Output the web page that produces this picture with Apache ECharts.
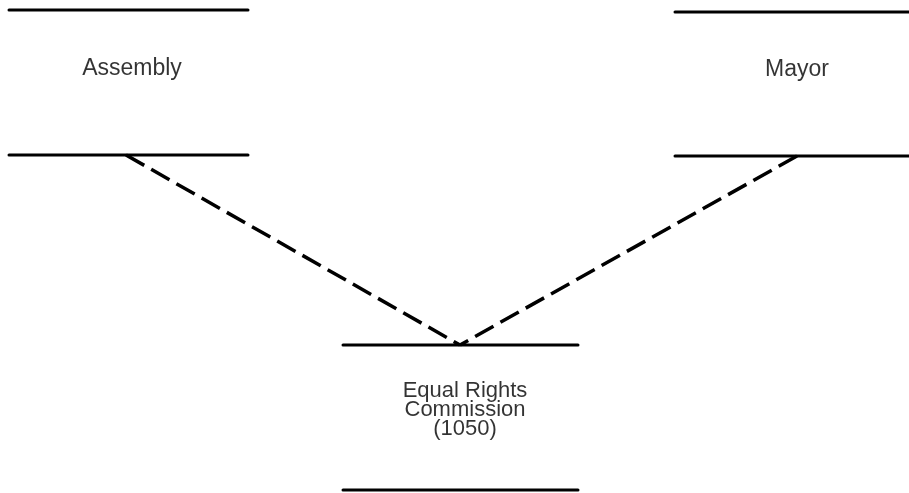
<!DOCTYPE html>
<html>
<head>
<meta charset="utf-8">
<script src="https://cdn.jsdelivr.net/npm/echarts@6/dist/echarts.min.js"></script>
<style>
  html, body { margin: 0; padding: 0; background: #fff; }
  #ch-main { width: 909px; height: 493px; }
</style>
</head>
<body>
<div id="ch-main"></div>
<script>
// units of the diagram, in drawing units (same scale as the page)
const units = ['Assembly', 'Mayor', 'Equal Rights\nCommission\n(1050)'];
const boxLeft = [9, 675, 343];
const boxRight = [248, 909, 578];
const boxTop = [10, 12, 345];
const boxBottom = [155, 156, 490];
const labelX = [132, 797, 465];
const labelY = [69, 70, 410];
const labelSize = [23, 23, 22];

// dashed links: [from unit, to unit, from x, to x]
const links = [[0, 2, 126, 460], [1, 2, 797, 460]];

let main = echarts.init(document.getElementById('ch-main'));

let series = [];

// the solid rules above and below each unit
units.forEach(function (u, i) {
    [boxTop[i], boxBottom[i]].forEach(function (y) {
        series.push({
            type: 'line',
            data: [[boxLeft[i], y], [boxRight[i], y]],
            symbol: 'none',
            lineStyle: { color: '#000', width: 3, cap: 'round' },
            silent: true
        });
    });
});

// dashed lines going from upper units down to the commission
links.forEach(function (l) {
    series.push({
        type: 'line',
        data: [[l[2], boxBottom[l[0]]], [l[3], boxTop[l[1]]]],
        symbol: 'none',
        lineStyle: { color: '#000', width: 3.5, type: [21, 8] },
        silent: true
    });
});

// the unit names
units.forEach(function (u, i) {
    series.push({
        type: 'scatter',
        data: [[labelX[i], labelY[i]]],
        symbolSize: 0,
        label: {
            show: true,
            position: 'inside',
            formatter: u,
            color: '#000',
            fontFamily: 'Liberation Sans, Arial, sans-serif',
            fontSize: labelSize[i],
            lineHeight: 19,
            align: 'center',
            verticalAlign: 'middle'
        },
        silent: true
    });
});

let option = {
    animation: false,
    grid: { left: 0, right: 0, top: 0, bottom: 0 },
    xAxis: { type: 'value', min: 0, max: 909, show: false },
    yAxis: { type: 'value', min: 0, max: 493, inverse: true, show: false },
    series: series
};

main.setOption(option);
</script>
</body>
</html>
